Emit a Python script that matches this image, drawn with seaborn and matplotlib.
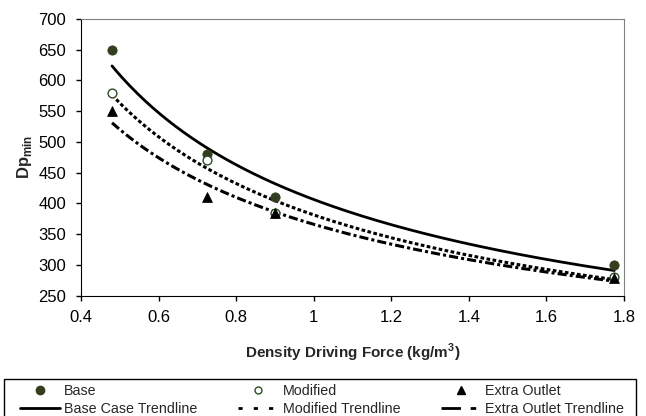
import numpy as np
import matplotlib
matplotlib.use("Agg")
import matplotlib.pyplot as plt
from matplotlib.lines import Line2D
from matplotlib.patches import Rectangle
import pandas as pd
import seaborn as sns

# values
force = [0.48, 0.725, 0.9, 1.775]
base = [650, 480, 410, 300]
modified = [580, 470, 385, 280]
extra_outlet = [550, 410, 385, 278]

sns.set_style("white")
plt.rcParams["font.family"] = ["Liberation Sans", "DejaVu Sans"]

df = pd.DataFrame({"force": force, "Base": base, "Modified": modified,
                   "Extra Outlet": extra_outlet})

W, H = 646, 416
fig = plt.figure(figsize=(W / 100, H / 100), dpi=100)
ax = fig.add_axes([81 / W, 1 - 295.5 / H, 543 / W, 276.5 / H])

# excel style power trendlines, fitted in log-log space
xs = np.linspace(min(force), max(force), 200)
def power_fit(y):
    b, lna = np.polyfit(np.log(df["force"]), np.log(y), 1)
    return np.exp(lna) * xs ** b

sns.lineplot(x=xs, y=power_fit(df["Base"]), ax=ax, color="black", lw=2)
sns.lineplot(x=xs, y=power_fit(df["Modified"]), ax=ax, color="black", lw=2.2,
             linestyle=(0, (1.2, 0.8)))
sns.lineplot(x=xs, y=power_fit(df["Extra Outlet"]), ax=ax, color="black", lw=2.2,
             linestyle=(0, (3, 1, 1, 1)))

base_col = "#333d1f"
mod_col = "#2e4a20"
sns.scatterplot(data=df, x="force", y="Base", ax=ax, color=base_col, s=45,
                edgecolor=base_col, zorder=5)
sns.scatterplot(data=df, x="force", y="Modified", ax=ax, facecolor="white", s=40,
                edgecolor=mod_col, linewidth=1, zorder=5)
sns.scatterplot(data=df, x="force", y="Extra Outlet", ax=ax, color="black", marker="^",
                s=50, edgecolor="black", zorder=5)

ax.set_xlim(0.4, 1.8)
ax.set_ylim(250, 700)
ax.set_xticks(np.arange(0.4, 1.81, 0.2))
ax.set_xticklabels(["0.4", "0.6", "0.8", "1", "1.2", "1.4", "1.6", "1.8"])
ax.set_yticks(range(250, 701, 50))
ax.tick_params(axis="both", direction="out", length=3.6, width=1, labelsize=12,
               colors="black", left=True, bottom=True, pad=7)
for s in ["left", "bottom"]:
    ax.spines[s].set_color("black")
for s in ["top", "right"]:
    ax.spines[s].set_color("#808080")
ax.set_xlabel("Density Driving Force (kg/m$^\\mathregular{3}$)", fontsize=11,
              fontweight="bold", labelpad=12)
ax.set_ylabel("Dp$_{\\mathregular{min}}$", fontsize=12, fontweight="bold", labelpad=3)

# legend below the chart, excel style
handles = [
    Line2D([], [], ls="none", marker="o", ms=6, color=base_col),
    Line2D([], [], color="black", lw=2),
    Line2D([], [], ls="none", marker="o", ms=5, mfc="white", mec=mod_col, mew=1),
    Line2D([], [], color="black", lw=2, ls=(0, (1.5, 4))),
    Line2D([], [], ls="none", marker="^", ms=6, color="black"),
    Line2D([], [], color="black", lw=2, ls=(0, (7, 3.5, 2, 3.5))),
]
labels = ["Base", "Base Case Trendline", "Modified", "Modified Trendline",
          "Extra Outlet", "Extra Outlet Trendline"]
fig.legend(handles, labels, ncol=3, loc="upper left",
           bbox_to_anchor=(20 / W, 0, 604 / W, 1 - 384 / H), mode="expand",
           frameon=False, fontsize=10.3, handlelength=2.8, handletextpad=0.3,
           labelspacing=0.25, borderpad=0, borderaxespad=0)
fig.add_artist(Rectangle((4 / W, 1 - 420 / H), 632 / W, 41 / H,
                         transform=fig.transFigure, fill=False,
                         edgecolor="black", lw=1))

fig.savefig("out.png", dpi=100)
